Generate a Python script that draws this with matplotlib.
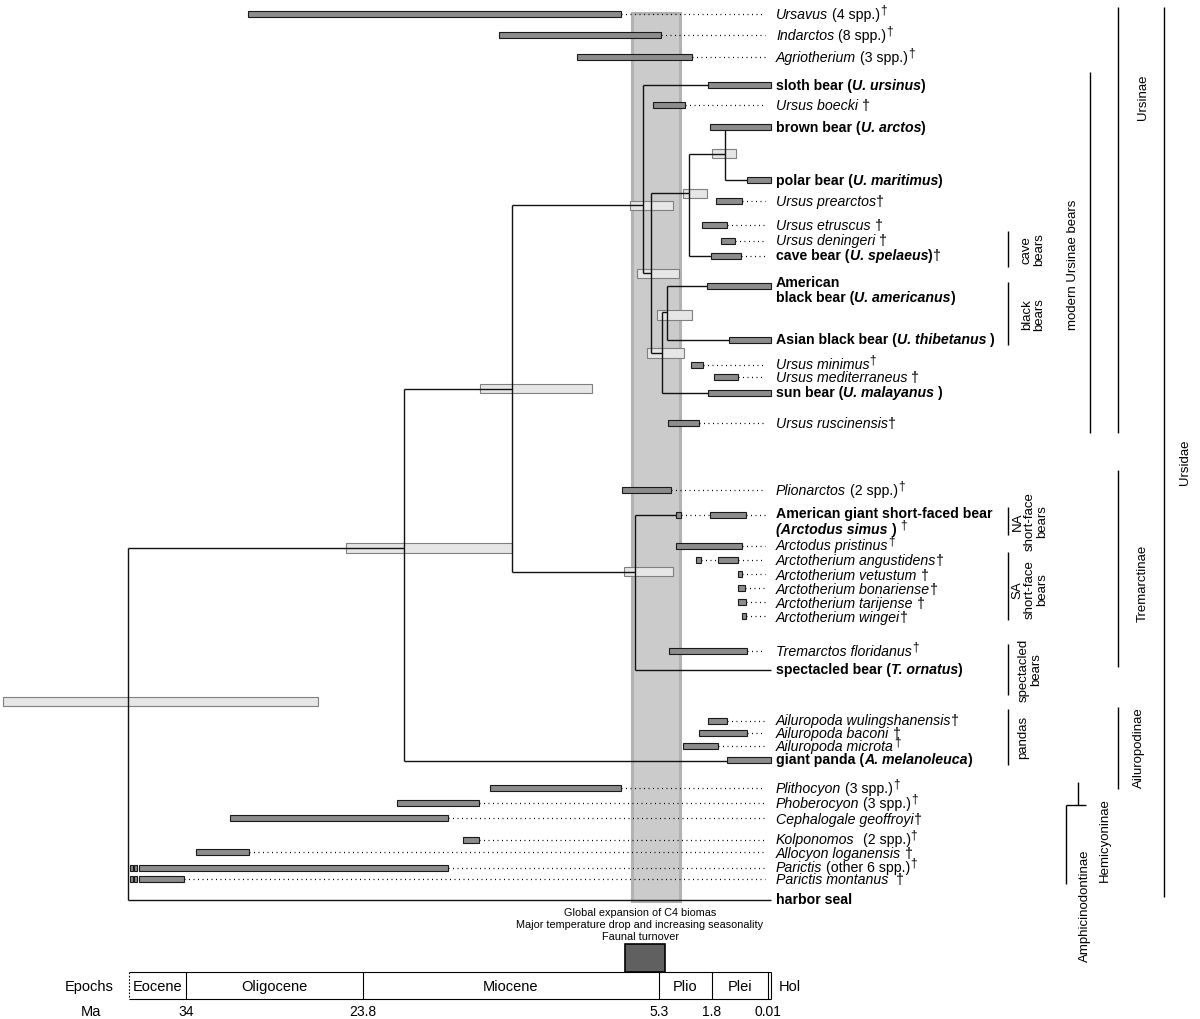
import numpy as np
import matplotlib
matplotlib.use('Agg')
import matplotlib.pyplot as plt

plt.rcParams['font.family'] = ['Liberation Sans', 'DejaVu Sans']

# --- TIME SCALE: the drawing is not linear in time, so map Ma onto the figure's own columns ---
SCALE_MA = [-30.0, 0.0, 0.01, 1.8, 5.3, 23.8, 34.0, 45.0]
SCALE_PX = [1200, 771, 768, 712, 659, 363, 186, -5]


def ma_to_px(m):
    return np.interp(m, SCALE_MA, SCALE_PX)


def px_to_ma(p):
    return np.interp(p, SCALE_PX[::-1], SCALE_MA[::-1])


# --- TIP RANGES (Ma): oldest / youngest record, None = no bar ---
RANGE_OLD = [30.4, 15.3, 10.4, 2.06, 5.7, 1.9, 0.67, 1.67, 2.46, 1.52, 1.87, 2.13, 1.27,
             3.19, 1.74, 2.06, 4.71, 7.61, 1.93, 4.18, 1.61, 0.98, 0.98, 0.98, 0.83, 4.64,
             None, 2.06, 2.66, 3.72, 1.33, 15.86, 21.67, 31.46, 17.55, 33.42, 36.71, 36.71, None]
RANGE_YOUNG = [7.7, 5.2, 3.1, 0.0, 3.6, 0.0, 0.0, 0.83, 1.33, 1.05, 0.86, 0.0, 0.0,
               2.4, 0.98, 0.0, 2.66, 4.51, 0.70, 0.83, 0.98, 0.83, 0.73, 0.70, 0.70, 0.67,
               None, 1.33, 0.67, 1.61, 0.0, 7.68, 16.55, 18.49, 16.55, 30.37, 18.49, 34.12, None]
# earlier isolated records: (tip index, oldest, youngest)
EARLY = [(18, 4.18, 3.85), (20, 2.86, 2.53), (36, 37.25, 37.05), (36, 37.0, 36.8),
         (37, 37.25, 37.05), (37, 37.0, 36.8)]

# --- TREE: node ages (Ma) and branches (parent, child age, row) ---
NODE_AGE = {'root': 37.34, 'ursidae': 21.24, 'crown': 14.49, 'ursinae': 6.3, 'ursus': 5.8,
            'arctos_grp': 3.32, 'arctos': 1.39, 'black_grp': 5.1, 'black': 4.77,
            'tremarctinae': 6.8}
BRANCHES = [('root', 21.24, 549), ('root', 0.0, 901),
            ('ursidae', 14.49, 390), ('ursidae', 1.33, 762),
            ('crown', 6.3, 206), ('crown', 6.8, 573),
            ('ursinae', 2.06, 86), ('ursinae', 5.8, 274),
            ('ursus', 3.32, 194), ('ursus', 5.1, 354),
            ('arctos_grp', 1.39, 155), ('arctos_grp', 1.87, 257),
            ('arctos', 1.39, 128), ('arctos', 0.67, 181),
            ('black_grp', 4.77, 313), ('black_grp', 2.06, 394),
            ('black', 2.13, 287), ('black', 1.27, 341),
            ('tremarctinae', 4.18, 516), ('tremarctinae', 0.0, 671)]

# node age uncertainty boxes (Ma)
NODE_CI_OLD = [1.8, 3.72, 7.11, 6.68, 5.43, 6.05, 16.49, 24.78, 7.49, 44.55]
NODE_CI_YOUNG = [1.02, 2.13, 4.38, 3.98, 3.12, 3.65, 9.49, 14.49, 4.38, 26.39]

# C4 expansion / faunal turnover window (Ma)
C4_BAND = (7.0, 3.9)
C4_BOX = (7.43, 4.9)

EPOCH_BOUNDS = [37.3, 34.0, 23.8, 5.3, 1.8, 0.01, 0.0]
EPOCH_NAMES = ['Eocene', 'Oligocene', 'Miocene', 'Plio', 'Plei']
TICK_MA = [34, 23.8, 5.3, 1.8, 0.01]
TICK_LABELS = ['34', '23.8', '5.3', '1.8', '0.01']

# tip labels: (row, [(text, style)]) style: n, i, b, bi ; trailing ^ = raised
LABELS = [
    (15, [('Ursavus', 'i'), (' (4 spp.)', 'n'), ('†', 'n^')]),
    (36, [('Indarctos', 'i'), (' (8 spp.)', 'n'), ('†', 'n^')]),
    (58, [('Agriotherium', 'i'), (' (3 spp.)', 'n'), ('†', 'n^')]),
    (86, [('sloth bear (', 'b'), ('U. ursinus', 'bi'), (')', 'b')]),
    (106, [('Ursus boecki', 'i'), (' †', 'n')]),
    (128, [('brown bear (', 'b'), ('U. arctos', 'bi'), (')', 'b')]),
    (181, [('polar bear (', 'b'), ('U. maritimus', 'bi'), (')', 'b')]),
    (202, [('Ursus prearctos', 'i'), ('†', 'n')]),
    (226, [('Ursus etruscus', 'i'), (' †', 'n')]),
    (241, [('Ursus deningeri', 'i'), (' †', 'n')]),
    (256, [('cave bear (', 'b'), ('U. spelaeus', 'bi'), (')', 'b'), ('†', 'n')]),
    (283, [('American', 'b')]),
    (298, [('black bear (', 'b'), ('U. americanus', 'bi'), (')', 'b')]),
    (340, [('Asian black bear (', 'b'), ('U. thibetanus', 'bi'), (' )', 'b')]),
    (365, [('Ursus minimus', 'i'), ('†', 'n^')]),
    (378, [('Ursus mediterraneus', 'i'), (' †', 'n')]),
    (393, [('sun bear (', 'b'), ('U. malayanus', 'bi'), (' )', 'b')]),
    (424, [('Ursus ruscinensis', 'i'), ('†', 'n')]),
    (491, [('Plionarctos', 'i'), (' (2 spp.)', 'n'), ('†', 'n^')]),
    (514, [('American giant short-faced bear', 'b')]),
    (530, [('(Arctodus simus', 'bi'), (' )', 'b'), (' †', 'n^')]),
    (546, [('Arctodus pristinus', 'i'), ('†', 'n^')]),
    (561, [('Arctotherium angustidens', 'i'), ('†', 'n')]),
    (576, [('Arctotherium vetustum', 'i'), (' †', 'n')]),
    (590, [('Arctotherium bonariense', 'i'), ('†', 'n')]),
    (604, [('Arctotherium tarijense', 'i'), (' †', 'n')]),
    (618, [('Arctotherium wingei', 'i'), ('†', 'n')]),
    (652, [('Tremarctos floridanus', 'i'), ('†', 'n^')]),
    (670, [('spectacled bear (', 'b'), ('T. ornatus', 'bi'), (')', 'b')]),
    (721, [('Ailuropoda wulingshanensis', 'i'), ('†', 'n')]),
    (734, [('Ailuropoda baconi', 'i'), (' †', 'n')]),
    (747, [('Ailuropoda microta', 'i'), ('†', 'n^')]),
    (760, [('giant panda (', 'b'), ('A. melanoleuca', 'bi'), (')', 'b')]),
    (789, [('Plithocyon', 'i'), (' (3 spp.)', 'n'), ('†', 'n^')]),
    (804, [('Phoberocyon', 'i'), (' (3 spp.)', 'n'), ('†', 'n^')]),
    (820, [('Cephalogale geoffroyi', 'i'), ('†', 'n')]),
    (840, [('Kolponomos', 'i'), ('  (2 spp.)', 'n'), ('†', 'n^')]),
    (854, [('Allocyon loganensis', 'i'), (' †', 'n')]),
    (868, [('Parictis', 'i'), (' (other 6 spp.)', 'n'), ('†', 'n^')]),
    (880, [('Parictis montanus', 'i'), ('  †', 'n')]),
    (900, [('harbor seal', 'b')]),
]

# right-hand clade brackets: (line x, y top, y bottom, text, text x, text y)
CLADES = [
    (1008, 232, 268, 'cave\nbears', 1033, 250),
    (1008, 283, 346, 'black\nbears', 1033, 315),
    (1090, 73, 434, 'modern Ursinae bears', 1073, 265),
    (1118, 8, 434, 'Ursinae', 1143, 97),
    (1008, 508, 536, 'NA\nshort-face\nbears', 1030, 522),
    (1008, 553, 621, 'SA\nshort-face\nbears', 1030, 590),
    (1008, 645, 696, 'spectacled\nbears', 1030, 670),
    (1008, 710, 766, 'pandas', 1023, 737),
    (1118, 471, 668, 'Tremarctinae', 1143, 583),
    (1118, 708, 790, 'Ailuropodinae', 1139, 748),
    (1078, 783, 806, 'Hemicyoninae', 1105, 840),
    (1066, 806, 885, 'Amphicinodontinae', 1085, 906),
    (1164, 8, 898, 'Ursidae', 1185, 462),
]

# row layout of the tips (figure rows)
ROW_Y = [15, 36, 58, 86, 106, 128, 181, 202, 226, 242, 257, 287, 341, 366, 378, 394, 424,
         491, 516, 547, 561, 575, 589, 603, 617, 652, 671, 722, 734, 747, 761,
         789, 804, 819, 841, 853, 869, 880, 901]
NODE_CI_Y = [154.5, 194.5, 206.5, 274.5, 316, 354, 389.5, 549, 572.5, 702.5]

BAR_H = 5.8
BOX_H = 9.5
LEADER_END = 0.11
DOTS = (0, (0.8, 2.8))

fig = plt.figure(figsize=(12, 10.2), dpi=100)
ax = fig.add_axes([0, 0, 1, 1])
ax.set_xscale('function', functions=(ma_to_px, px_to_ma))
ov = fig.add_axes([0, 0, 1, 1], facecolor='none')
ov.set_xlim(0, 1200)
ov.set_ylim(1020, 0)
ov.axis('off')

# shaded C4 window
ax.barh((14 + 902) / 2, C4_BAND[1] - C4_BAND[0], left=C4_BAND[0], height=888,
        color='#cbcbcb', edgecolor='#b2b2b2', linewidth=2.2, zorder=0)

# node uncertainty boxes
ax.barh(NODE_CI_Y, np.subtract(NODE_CI_YOUNG, NODE_CI_OLD), left=NODE_CI_OLD, height=BOX_H,
        color='#e6e6e6', edgecolor='#808080', linewidth=0.8, zorder=1)

# branches
for parent, age in NODE_AGE.items():
    ys = [y for p, _, y in BRANCHES if p == parent]
    ax.vlines(age, min(ys), max(ys), color='#111111', linewidth=1.0, zorder=2)
for parent, child_age, y in BRANCHES:
    ax.hlines(y, NODE_AGE[parent], child_age, color='#111111', linewidth=1.0, zorder=2)

# tip ranges and dotted leaders
for old, young, y in zip(RANGE_OLD, RANGE_YOUNG, ROW_Y):
    if old is None:
        continue
    ax.barh(y, young - old, left=old, height=BAR_H, color='#8c8c8c',
            edgecolor='#1a1a1a', linewidth=0.8, zorder=3)
    if young > 0.05:
        ax.hlines(y, young, LEADER_END, color='black', linewidth=0.9,
                  linestyles=DOTS, zorder=2)
for i, old, young in EARLY:
    y = ROW_Y[i]
    ax.barh(y, young - old, left=old, height=BAR_H, color='#8c8c8c',
            edgecolor='#1a1a1a', linewidth=0.8, zorder=3)
    if young - RANGE_OLD[i] > 0.5:
        ax.hlines(y, young, RANGE_OLD[i], color='black', linewidth=0.9,
                  linestyles=DOTS, zorder=2)

# epoch bar
ax.hlines([973, 1000], EPOCH_BOUNDS[0], EPOCH_BOUNDS[-1], color='black', linewidth=0.8)
ax.vlines(EPOCH_BOUNDS[0], 973, 1000, color='black', linewidth=0.8, linestyles=(0, (1.5, 1.5)))
ax.vlines(EPOCH_BOUNDS[1:], 973, 1000, color='black', linewidth=0.8)
for a, b, name in zip(EPOCH_BOUNDS[:-1], EPOCH_BOUNDS[1:], EPOCH_NAMES):
    mid = px_to_ma((ma_to_px(a) + ma_to_px(b)) / 2)
    ax.text(mid, 987, name, ha='center', va='center', fontsize=10.5)
ov.text(779, 987, 'Hol', ha='left', va='center', fontsize=10.5)
ov.text(114, 987, 'Epochs', ha='right', va='center', fontsize=10.5)
ov.text(91, 1012, 'Ma', ha='center', va='center', fontsize=10.5)
for t, lab in zip(TICK_MA, TICK_LABELS):
    ax.text(t, 1012, lab, ha='center', va='center', fontsize=10)
ax.barh(959, C4_BOX[1] - C4_BOX[0], left=C4_BOX[0], height=28, color='#606060',
        edgecolor='black', linewidth=1.2)
for k, line in enumerate(['Global expansion of C4 biomas',
                          'Major temperature drop and increasing seasonality',
                          'Faunal turnover']):
    ov.text(640, 913 + 12 * k, line, ha='center', va='center', fontsize=7.8)

ax.set_ylim(1020, 0)
# the scale function runs from old (left) to present (right)
ax.set_xlim(px_to_ma(1200), px_to_ma(0))
ax.axis('off')

# tip labels with mixed styles
STYLE = {'n': {}, 'i': {'fontstyle': 'italic'}, 'b': {'fontweight': 'bold'},
         'bi': {'fontweight': 'bold', 'fontstyle': 'italic'}}
SIZE = 10.2
for y, parts in LABELS:
    prev = None
    for text, st in parts:
        raised = st.endswith('^')
        st = st.rstrip('^')
        gap = (len(text) - len(text.lstrip(' '))) * 0.28 * SIZE
        text = text.strip()
        kw = dict(fontsize=SIZE * 0.85 if raised else SIZE, **STYLE[st])
        if prev is None:
            prev = ov.text(776, y, text, ha='left', va='center', **kw)
        else:
            prev = ov.annotate(text, xy=(1, 0), xycoords=prev,
                               xytext=(gap, 4 if raised else 0), textcoords='offset points',
                               ha='left', va='bottom', **kw)

# clade brackets
for lx, y0, y1, text, tx, ty in CLADES:
    ov.vlines(lx, y0, y1, color='black', linewidth=1.0)
    ov.text(tx, ty, text, rotation=90, ha='center', va='center', multialignment='center',
            fontsize=9.5, linespacing=1.05)
ov.hlines(806, 1066, 1086, color='black', linewidth=1.0)

fig.savefig('out.png', dpi=100)
